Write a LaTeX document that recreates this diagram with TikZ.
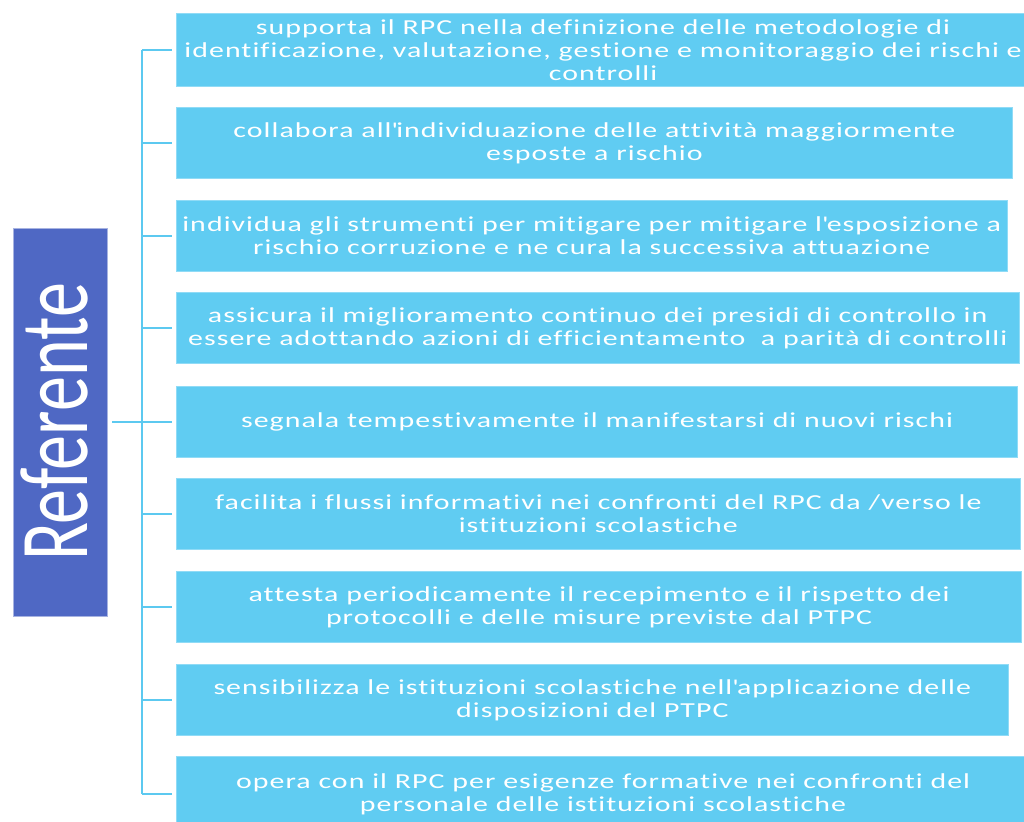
\documentclass[tikz,border=0pt]{standalone}
\usepackage{fontspec}
\usepackage{tikz}
\usetikzlibrary{positioning}
\newfontfamily\dutyfont[FakeStretch=1.4, LetterSpace=5, Ligatures={NoCommon}]{Carlito}
\newfontfamily\titlefont[FakeStretch=0.72]{Carlito}
\definecolor{dutyblue}{RGB}{96,204,242}
\definecolor{refblue}{RGB}{79,104,196}
\definecolor{linkblue}{RGB}{92,201,240}

\begin{document}
\begin{tikzpicture}[x=0.75pt, y=-0.75pt,
    duty/.style={rectangle, fill=dutyblue, draw=dutyblue!70!white, line width=0.6pt, anchor=west, minimum height=53pt, inner sep=0pt, align=center, text=white, font=\dutyfont\fontsize{16}{17.25}\selectfont},
    refbox/.style={rectangle, fill=refblue, draw=refblue!50!white, line width=0.6pt, minimum width=71pt, minimum height=291pt, inner sep=0pt, text=white},
    link/.style={linkblue, line width=2.2pt}
]
\useasboundingbox (0,0) rectangle (1024,821);
\clip (0,0) rectangle (1024,821);

\node[refbox] (ref) at (60.5,422) {\rotatebox{90}{\titlefont\fontsize{73}{73}\selectfont\rule[-9pt]{0pt}{0pt}Referente}};

\node[duty, minimum width=640pt, minimum height=55pt] (d1) at (176,50) {supporta il RPC nella definizione delle metodologie di\\identificazione, valutazione, gestione e monitoraggio dei rischi e\\controlli};
\node[duty, minimum width=627pt] (d2) at (176,143) {collabora all\textquotesingle individuazione delle attività maggiormente\\esposte a rischio};
\node[duty, minimum width=623pt] (d3) at (176,236) {individua gli strumenti per mitigare per mitigare l\textquotesingle esposizione a\\rischio corruzione e ne cura la successiva attuazione};
\node[duty, minimum width=632pt] (d4) at (176,328) {assicura il miglioramento continuo dei presidi di controllo in\\essere adottando azioni di efficientamento\ \ a parità di controlli};
\node[duty, minimum width=631pt] (d5) at (176,422) {segnala tempestivamente il manifestarsi di nuovi rischi};
\node[duty, minimum width=633pt] (d6) at (176,514) {facilita i flussi informativi nei confronti del RPC da /verso le\\istituzioni scolastiche};
\node[duty, minimum width=634pt] (d7) at (176,607) {attesta periodicamente il recepimento e il rispetto dei\\protocolli e delle misure previste dal PTPC};
\node[duty, minimum width=624pt] (d8) at (176,700) {sensibilizza le istituzioni scolastiche nell\textquotesingle applicazione delle\\disposizioni del PTPC};
\node[duty, minimum width=640pt, minimum height=56pt] (d9) at (176,794) {opera con il RPC per esigenze formative nei confronti del\\personale delle istituzioni scolastiche};

\coordinate (spine) at (142,0);
\draw[link] (d1.west -| spine) -- (d9.west -| spine);
\draw[link, shorten <=3pt] (ref.east) -- (ref.east -| spine);
\foreach \i in {1,...,9}
    \draw[link, shorten >=3pt] (d\i.west -| spine) -- (d\i.west);

\end{tikzpicture}
\end{document}
